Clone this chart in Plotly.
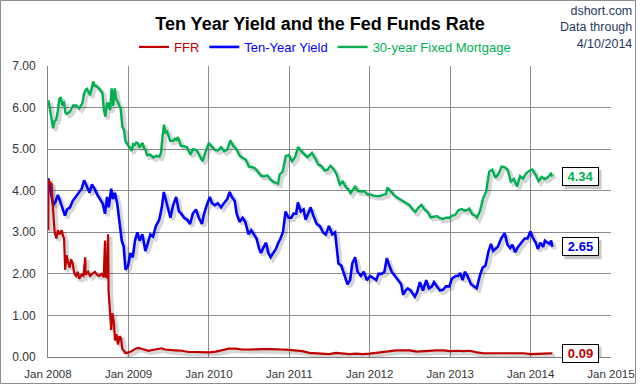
import pandas as pd
import plotly.graph_objects as go

# ---------------- data ----------------
ffr = [
    ("2008-01-02", 3.05), ("2008-01-03", 4.25), ("2008-01-10", 4.20), ("2008-01-17", 4.15),
    ("2008-01-22", 3.70), ("2008-01-25", 3.45), ("2008-01-31", 3.00), ("2008-02-08", 2.85),
    ("2008-02-15", 3.05), ("2008-02-22", 2.95), ("2008-03-03", 3.05), ("2008-03-10", 2.90),
    ("2008-03-14", 2.85), ("2008-03-19", 2.10), ("2008-03-25", 2.45), ("2008-03-31", 2.30),
    ("2008-04-08", 2.15), ("2008-04-15", 2.35), ("2008-04-22", 2.25), ("2008-04-30", 2.00),
    ("2008-05-08", 1.95), ("2008-05-15", 2.05), ("2008-05-22", 1.88), ("2008-06-01", 1.98),
    ("2008-06-10", 1.95), ("2008-06-18", 2.40), ("2008-06-20", 1.98), ("2008-07-01", 2.05),
    ("2008-07-10", 1.95), ("2008-07-20", 2.00), ("2008-08-01", 2.05), ("2008-08-10", 1.98),
    ("2008-08-20", 1.95), ("2008-09-01", 2.00), ("2008-09-10", 1.92), ("2008-09-16", 2.80),
    ("2008-09-18", 1.95), ("2008-09-24", 1.90), ("2008-09-30", 2.95), ("2008-10-02", 1.60),
    ("2008-10-08", 1.05), ("2008-10-14", 0.65), ("2008-10-20", 1.05), ("2008-10-27", 0.80),
    ("2008-10-31", 0.40), ("2008-11-07", 0.55), ("2008-11-14", 0.30), ("2008-11-21", 0.50),
    ("2008-11-28", 0.45), ("2008-12-03", 0.20), ("2008-12-10", 0.15), ("2008-12-17", 0.10),
    ("2008-12-25", 0.10), ("2009-01-05", 0.12), ("2009-01-15", 0.14), ("2009-02-01", 0.20),
    ("2009-02-15", 0.22), ("2009-03-01", 0.20), ("2009-04-01", 0.15), ("2009-05-01", 0.18),
    ("2009-06-01", 0.21), ("2009-06-15", 0.18), ("2009-07-01", 0.17), ("2009-08-01", 0.16),
    ("2009-09-01", 0.15), ("2009-10-01", 0.12), ("2009-11-01", 0.12), ("2009-12-01", 0.12),
    ("2010-01-01", 0.11), ("2010-02-01", 0.13), ("2010-03-01", 0.16), ("2010-04-01", 0.20),
    ("2010-05-01", 0.20), ("2010-06-01", 0.18), ("2010-07-01", 0.18), ("2010-08-01", 0.19),
    ("2010-09-01", 0.19), ("2010-10-01", 0.19), ("2010-11-01", 0.19), ("2010-12-01", 0.18),
    ("2011-01-01", 0.17), ("2011-02-01", 0.16), ("2011-03-01", 0.14), ("2011-04-01", 0.10),
    ("2011-05-01", 0.09), ("2011-06-01", 0.09), ("2011-07-01", 0.07), ("2011-08-01", 0.10),
    ("2011-09-01", 0.08), ("2011-10-01", 0.07), ("2011-11-01", 0.08), ("2011-12-01", 0.07),
    ("2012-01-01", 0.08), ("2012-02-01", 0.10), ("2012-03-01", 0.13), ("2012-04-01", 0.14),
    ("2012-05-01", 0.16), ("2012-06-01", 0.16), ("2012-07-01", 0.16), ("2012-08-01", 0.13),
    ("2012-09-01", 0.14), ("2012-10-01", 0.16), ("2012-11-01", 0.16), ("2012-12-01", 0.16),
    ("2013-01-01", 0.14), ("2013-02-01", 0.15), ("2013-03-01", 0.14), ("2013-04-01", 0.15),
    ("2013-05-01", 0.11), ("2013-06-01", 0.09), ("2013-07-01", 0.09), ("2013-08-01", 0.08),
    ("2013-09-01", 0.08), ("2013-10-01", 0.09), ("2013-11-01", 0.08), ("2013-12-01", 0.09),
    ("2014-01-01", 0.07), ("2014-02-01", 0.07), ("2014-03-01", 0.08), ("2014-04-10", 0.09),
]

ten_year = [
    ("2008-01-02", 4.30), ("2008-01-10", 4.05), ("2008-01-18", 3.80), ("2008-01-25", 3.65),
    ("2008-02-05", 3.75), ("2008-02-15", 3.90), ("2008-02-25", 3.75), ("2008-03-10", 3.50),
    ("2008-03-18", 3.40), ("2008-03-28", 3.55), ("2008-04-10", 3.60), ("2008-04-22", 3.75),
    ("2008-05-05", 3.85), ("2008-05-20", 3.95), ("2008-06-02", 4.05), ("2008-06-13", 4.25),
    ("2008-06-25", 4.10), ("2008-07-08", 3.95), ("2008-07-18", 4.15), ("2008-07-30", 4.05),
    ("2008-08-12", 3.90), ("2008-08-25", 3.80), ("2008-09-05", 3.70), ("2008-09-16", 3.45),
    ("2008-09-25", 3.85), ("2008-10-03", 3.60), ("2008-10-14", 4.05), ("2008-10-22", 3.80),
    ("2008-10-31", 3.95), ("2008-11-10", 3.70), ("2008-11-20", 3.20), ("2008-12-01", 2.80),
    ("2008-12-10", 2.65), ("2008-12-18", 2.10), ("2008-12-30", 2.20), ("2009-01-09", 2.50),
    ("2009-01-20", 2.40), ("2009-01-30", 2.80), ("2009-02-10", 3.00), ("2009-02-20", 2.80),
    ("2009-03-05", 2.95), ("2009-03-18", 2.55), ("2009-03-30", 2.75), ("2009-04-10", 2.95),
    ("2009-04-22", 2.90), ("2009-05-05", 3.15), ("2009-05-20", 3.30), ("2009-06-01", 3.60),
    ("2009-06-10", 3.97), ("2009-06-22", 3.70), ("2009-07-01", 3.50), ("2009-07-10", 3.35),
    ("2009-07-22", 3.65), ("2009-08-05", 3.85), ("2009-08-18", 3.50), ("2009-08-28", 3.45),
    ("2009-09-10", 3.35), ("2009-09-25", 3.30), ("2009-10-07", 3.20), ("2009-10-20", 3.45),
    ("2009-11-03", 3.55), ("2009-11-16", 3.35), ("2009-11-30", 3.20), ("2009-12-10", 3.45),
    ("2009-12-22", 3.65), ("2010-01-05", 3.85), ("2010-01-15", 3.70), ("2010-01-28", 3.65),
    ("2010-02-10", 3.70), ("2010-02-25", 3.60), ("2010-03-10", 3.70), ("2010-03-25", 3.80),
    ("2010-04-05", 3.97), ("2010-04-15", 3.85), ("2010-04-28", 3.75), ("2010-05-07", 3.45),
    ("2010-05-20", 3.25), ("2010-06-03", 3.35), ("2010-06-15", 3.25), ("2010-06-30", 2.95),
    ("2010-07-12", 3.05), ("2010-07-23", 2.95), ("2010-08-05", 2.85), ("2010-08-17", 2.60),
    ("2010-08-25", 2.50), ("2010-09-07", 2.65), ("2010-09-17", 2.75), ("2010-09-28", 2.50),
    ("2010-10-08", 2.40), ("2010-10-20", 2.50), ("2010-11-01", 2.60), ("2010-11-12", 2.75),
    ("2010-11-22", 2.85), ("2010-12-03", 3.00), ("2010-12-15", 3.50), ("2010-12-28", 3.35),
    ("2011-01-10", 3.35), ("2011-01-20", 3.45), ("2011-02-01", 3.45), ("2011-02-09", 3.72),
    ("2011-02-22", 3.50), ("2011-03-07", 3.55), ("2011-03-16", 3.30), ("2011-03-28", 3.45),
    ("2011-04-08", 3.60), ("2011-04-20", 3.40), ("2011-05-05", 3.20), ("2011-05-20", 3.15),
    ("2011-06-03", 3.00), ("2011-06-16", 2.95), ("2011-06-30", 3.15), ("2011-07-08", 3.05),
    ("2011-07-15", 2.95), ("2011-07-28", 3.00), ("2011-08-05", 2.55), ("2011-08-12", 2.25),
    ("2011-08-25", 2.20), ("2011-09-08", 2.00), ("2011-09-22", 1.75), ("2011-10-04", 1.85),
    ("2011-10-14", 2.25), ("2011-10-27", 2.40), ("2011-11-07", 2.05), ("2011-11-22", 1.95),
    ("2011-12-05", 2.05), ("2011-12-19", 1.85), ("2012-01-03", 1.95), ("2012-01-17", 1.90),
    ("2012-01-31", 1.85), ("2012-02-10", 2.00), ("2012-02-24", 2.00), ("2012-03-08", 2.05),
    ("2012-03-19", 2.38), ("2012-03-30", 2.20), ("2012-04-10", 2.05), ("2012-04-25", 1.95),
    ("2012-05-10", 1.85), ("2012-05-23", 1.75), ("2012-06-01", 1.50), ("2012-06-12", 1.60),
    ("2012-06-22", 1.65), ("2012-07-05", 1.60), ("2012-07-24", 1.45), ("2012-08-03", 1.55),
    ("2012-08-16", 1.80), ("2012-08-30", 1.60), ("2012-09-14", 1.85), ("2012-09-26", 1.65),
    ("2012-10-10", 1.70), ("2012-10-19", 1.80), ("2012-11-01", 1.70), ("2012-11-15", 1.60),
    ("2012-11-30", 1.62), ("2012-12-12", 1.70), ("2012-12-28", 1.70), ("2013-01-08", 1.88),
    ("2013-01-25", 1.95), ("2013-02-05", 1.95), ("2013-02-15", 2.02), ("2013-02-26", 1.85),
    ("2013-03-08", 2.05), ("2013-03-20", 1.95), ("2013-04-05", 1.75), ("2013-04-18", 1.70),
    ("2013-05-01", 1.65), ("2013-05-15", 1.95), ("2013-05-28", 2.15), ("2013-06-10", 2.20),
    ("2013-06-24", 2.55), ("2013-07-05", 2.72), ("2013-07-15", 2.55), ("2013-07-25", 2.60),
    ("2013-08-05", 2.65), ("2013-08-20", 2.85), ("2013-09-05", 2.98), ("2013-09-18", 2.70),
    ("2013-09-30", 2.62), ("2013-10-10", 2.70), ("2013-10-23", 2.52), ("2013-11-05", 2.65),
    ("2013-11-20", 2.75), ("2013-12-05", 2.85), ("2013-12-18", 2.85), ("2013-12-31", 3.02),
    ("2014-01-10", 2.88), ("2014-01-24", 2.75), ("2014-02-03", 2.60), ("2014-02-14", 2.75),
    ("2014-02-27", 2.65), ("2014-03-07", 2.80), ("2014-03-19", 2.75), ("2014-03-28", 2.72),
    ("2014-04-04", 2.80), ("2014-04-10", 2.65),
]

mortgage = [
    ("2008-01-03", 6.18), ("2008-01-10", 5.95), ("2008-01-17", 5.70), ("2008-01-24", 5.50),
    ("2008-01-31", 5.68), ("2008-02-07", 5.70), ("2008-02-14", 5.90), ("2008-02-21", 6.20),
    ("2008-02-28", 6.25), ("2008-03-06", 6.05), ("2008-03-13", 6.15), ("2008-03-20", 5.88),
    ("2008-03-27", 5.85), ("2008-04-10", 5.90), ("2008-04-24", 6.05), ("2008-05-08", 6.05),
    ("2008-05-22", 5.98), ("2008-06-05", 6.10), ("2008-06-12", 6.32), ("2008-06-19", 6.42),
    ("2008-06-26", 6.45), ("2008-07-03", 6.35), ("2008-07-10", 6.30), ("2008-07-17", 6.45),
    ("2008-07-24", 6.63), ("2008-07-31", 6.52), ("2008-08-07", 6.52), ("2008-08-21", 6.45),
    ("2008-08-28", 6.40), ("2008-09-04", 6.35), ("2008-09-11", 5.93), ("2008-09-18", 5.78),
    ("2008-09-25", 6.10), ("2008-10-02", 6.10), ("2008-10-09", 5.94), ("2008-10-16", 6.46),
    ("2008-10-23", 6.04), ("2008-10-30", 6.46), ("2008-11-06", 6.20), ("2008-11-13", 6.14),
    ("2008-11-20", 6.04), ("2008-11-26", 5.97), ("2008-12-04", 5.53), ("2008-12-11", 5.47),
    ("2008-12-18", 5.19), ("2009-01-08", 5.01), ("2009-01-15", 4.96), ("2009-01-22", 5.12),
    ("2009-01-29", 5.10), ("2009-02-05", 5.16), ("2009-02-12", 5.14), ("2009-02-19", 5.04),
    ("2009-03-05", 5.15), ("2009-03-12", 5.03), ("2009-03-19", 4.98), ("2009-03-26", 4.85),
    ("2009-04-09", 4.87), ("2009-04-23", 4.80), ("2009-05-07", 4.84), ("2009-05-21", 4.82),
    ("2009-05-28", 4.91), ("2009-06-04", 5.29), ("2009-06-11", 5.59), ("2009-06-18", 5.38),
    ("2009-06-25", 5.42), ("2009-07-09", 5.20), ("2009-07-23", 5.20), ("2009-07-30", 5.25),
    ("2009-08-06", 5.22), ("2009-08-13", 5.29), ("2009-08-27", 5.08), ("2009-09-10", 5.07),
    ("2009-09-24", 5.04), ("2009-10-08", 4.87), ("2009-10-22", 5.00), ("2009-11-05", 4.98),
    ("2009-11-19", 4.83), ("2009-12-03", 4.71), ("2009-12-17", 4.94), ("2009-12-31", 5.14),
    ("2010-01-14", 5.06), ("2010-01-28", 4.98), ("2010-02-11", 4.97), ("2010-02-25", 5.05),
    ("2010-03-11", 4.95), ("2010-03-25", 4.99), ("2010-04-08", 5.21), ("2010-04-22", 5.07),
    ("2010-05-06", 5.00), ("2010-05-20", 4.84), ("2010-06-03", 4.79), ("2010-06-17", 4.75),
    ("2010-07-01", 4.58), ("2010-07-15", 4.57), ("2010-07-29", 4.54), ("2010-08-12", 4.44),
    ("2010-08-26", 4.36), ("2010-09-09", 4.35), ("2010-09-23", 4.37), ("2010-10-07", 4.27),
    ("2010-10-21", 4.21), ("2010-11-11", 4.17), ("2010-11-18", 4.39), ("2010-12-02", 4.46),
    ("2010-12-09", 4.61), ("2010-12-16", 4.83), ("2010-12-30", 4.86), ("2011-01-13", 4.71),
    ("2011-01-27", 4.80), ("2011-02-10", 5.05), ("2011-02-24", 4.95), ("2011-03-10", 4.88),
    ("2011-03-24", 4.81), ("2011-04-07", 4.87), ("2011-04-14", 4.91), ("2011-04-28", 4.78),
    ("2011-05-12", 4.63), ("2011-05-26", 4.60), ("2011-06-09", 4.49), ("2011-06-23", 4.50),
    ("2011-07-07", 4.60), ("2011-07-21", 4.52), ("2011-08-04", 4.39), ("2011-08-18", 4.15),
    ("2011-09-01", 4.22), ("2011-09-15", 4.09), ("2011-09-29", 4.01), ("2011-10-06", 3.94),
    ("2011-10-27", 4.10), ("2011-11-10", 3.99), ("2011-11-24", 3.98), ("2011-12-08", 3.99),
    ("2011-12-22", 3.91), ("2012-01-05", 3.91), ("2012-01-19", 3.88), ("2012-02-02", 3.87),
    ("2012-02-16", 3.87), ("2012-03-01", 3.90), ("2012-03-15", 3.92), ("2012-03-22", 4.08),
    ("2012-04-05", 3.98), ("2012-04-19", 3.90), ("2012-05-03", 3.84), ("2012-05-17", 3.79),
    ("2012-05-31", 3.75), ("2012-06-14", 3.71), ("2012-06-28", 3.66), ("2012-07-12", 3.56),
    ("2012-07-26", 3.49), ("2012-08-09", 3.59), ("2012-08-23", 3.66), ("2012-09-06", 3.55),
    ("2012-09-20", 3.49), ("2012-10-04", 3.36), ("2012-10-18", 3.37), ("2012-11-01", 3.39),
    ("2012-11-15", 3.34), ("2012-11-29", 3.32), ("2012-12-13", 3.35), ("2012-12-27", 3.35),
    ("2013-01-10", 3.40), ("2013-01-24", 3.42), ("2013-02-07", 3.53), ("2013-02-21", 3.56),
    ("2013-03-07", 3.52), ("2013-03-21", 3.54), ("2013-03-28", 3.57), ("2013-04-11", 3.43),
    ("2013-04-25", 3.40), ("2013-05-02", 3.35), ("2013-05-16", 3.51), ("2013-05-30", 3.81),
    ("2013-06-13", 3.98), ("2013-06-27", 4.46), ("2013-07-11", 4.51), ("2013-07-25", 4.31),
    ("2013-08-08", 4.40), ("2013-08-22", 4.58), ("2013-09-05", 4.57), ("2013-09-19", 4.50),
    ("2013-10-03", 4.22), ("2013-10-17", 4.28), ("2013-10-31", 4.10), ("2013-11-14", 4.35),
    ("2013-11-27", 4.29), ("2013-12-12", 4.42), ("2013-12-26", 4.48), ("2014-01-09", 4.51),
    ("2014-01-23", 4.39), ("2014-02-06", 4.23), ("2014-02-20", 4.33), ("2014-03-06", 4.28),
    ("2014-03-20", 4.32), ("2014-04-03", 4.41), ("2014-04-10", 4.34),
]

series_names = ["FFR", "Ten-Year Yield", "30-year Fixed Mortgage"]
series_colors = ["#C00000", "#0000FF", "#00B050"]
series_widths = [2.2, 2.6, 2.4]
y_ticks = [0, 1, 2, 3, 4, 5, 6, 7]
x_ticks = [f"{y}-01-01" for y in range(2008, 2016)]
title_text = "Ten Year Yield and the Fed Funds Rate"
source_text = "dshort.com<br>Data through<br>4/10/2014"

# ---------------- figure ----------------
W, H = 640, 385
L, R, T, B = 48, 29, 66, 28
plot_w, plot_h = W - L - R, H - T - B
days_per_px = 7 * 365.25 / plot_w
val_per_px = 7.0 / plot_h

fig = go.Figure()
all_series = [ffr, ten_year, mortgage]

# drop shadows (derived from the data, offset a few pixels)
for data in all_series:
    df = pd.DataFrame(data, columns=["date", "value"])
    df["date"] = pd.to_datetime(df["date"])
    fig.add_trace(go.Scatter(
        x=df["date"] + pd.Timedelta(days=2.5 * days_per_px),
        y=df["value"] - 2.5 * val_per_px,
        mode="lines", line=dict(color="rgba(0,0,0,0.16)", width=4),
        showlegend=False, hoverinfo="skip"))

# main lines: draw green, blue, then red on top
for idx in [2, 1, 0]:
    df = pd.DataFrame(all_series[idx], columns=["date", "value"])
    df["date"] = pd.to_datetime(df["date"])
    fig.add_trace(go.Scatter(
        x=df["date"], y=df["value"], mode="lines",
        name=f"<span style='color:{series_colors[idx]}'>{series_names[idx]}</span>",
        line=dict(color=series_colors[idx], width=series_widths[idx]),
        legendrank=idx + 1))

# end-value labels (boxed, with a soft shadow)
label_x = (580 - L) / plot_w
for idx, data in enumerate(all_series):
    last = data[-1][1]
    fig.add_shape(type="rect", xref="paper", yref="y",
                  xsizemode="pixel", ysizemode="pixel",
                  xanchor=label_x, yanchor=last,
                  x0=-18.5 + 3, x1=18.5 + 3, y0=-9.5 - 3, y1=9.5 - 3,
                  line=dict(width=0), fillcolor="rgba(0,0,0,0.22)", layer="above")
    fig.add_annotation(x=label_x, xref="paper", xanchor="center",
                       y=last, yref="y", yanchor="middle",
                       text=f"<b>{last:.2f}</b>", showarrow=False,
                       width=31, height=13, align="center",
                       font=dict(family="Liberation Sans", size=13, color=series_colors[idx]),
                       bgcolor="white", bordercolor="black", borderwidth=1, borderpad=2)

# source note
fig.add_annotation(x=(634 - L) / plot_w, xref="paper", xanchor="right",
                   y=(H - B - 2) / plot_h, yref="paper", yanchor="top",
                   text=source_text, align="right", showarrow=False,
                   font=dict(family="Liberation Sans", size=12.5, color="#1F3A5F"))

# outer border
fig.add_shape(type="rect", xref="paper", yref="paper",
              x0=-(L - 0.5) / plot_w, x1=(635.5 - L) / plot_w,
              y0=-(B - 1.5) / plot_h, y1=(H - B - 0.5) / plot_h,
              line=dict(color="#8C8C8C", width=1), fillcolor="rgba(0,0,0,0)")

fig.update_layout(
    width=W, height=H,
    margin=dict(l=L, r=R, t=T, b=B, autoexpand=False),
    paper_bgcolor="white", plot_bgcolor="white",
    font=dict(family="Liberation Sans", size=12, color="#333333"),
    title=dict(text=f"<b>{title_text}</b>", x=0.5, xref="container", xanchor="center",
               y=1 - 24 / H, yref="container", yanchor="middle",
               font=dict(family="Liberation Sans", size=18, color="black")),
    showlegend=True,
    legend=dict(orientation="h", x=(325 - L) / plot_w, xanchor="center",
                y=(H - B - 47) / plot_h, yanchor="middle",
                font=dict(family="Liberation Sans", size=13),
                bgcolor="rgba(0,0,0,0)", traceorder="normal",
                itemwidth=30, tracegroupgap=0),
    xaxis=dict(type="date", range=["2008-01-01", "2015-01-01"],
               tickvals=x_ticks, tickformat="%b %Y",
               showgrid=True, gridcolor="#8C8C8C", gridwidth=1,
               showline=True, linecolor="#7F7F7F", linewidth=1,
               ticks="", ticklabelstandoff=6,
               tickfont=dict(family="Liberation Sans", size=11.5, color="#333333"),
               zeroline=False, fixedrange=True),
    yaxis=dict(range=[0, 7], tickvals=y_ticks, tickformat=".2f",
               showgrid=True, gridcolor="#8C8C8C", gridwidth=1,
               showline=True, linecolor="#7F7F7F", linewidth=1,
               ticks="", ticklabelstandoff=9,
               tickfont=dict(family="Liberation Sans", size=12, color="#333333"),
               zeroline=False, fixedrange=True),
)

fig.write_html("out.html", config={"displayModeBar": False},
               post_script="document.body.style.margin='0';document.body.style.padding='0';")
